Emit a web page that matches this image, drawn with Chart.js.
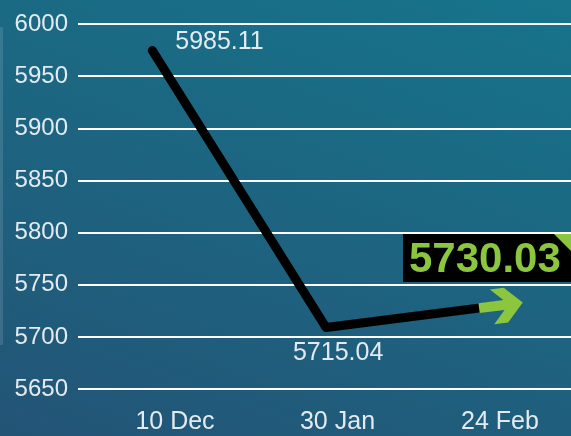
<!DOCTYPE html>
<html>
<head>
<meta charset="utf-8">
<script src="https://cdn.jsdelivr.net/npm/chart.js@4"></script>
<style>
  html, body { margin: 0; padding: 0; }
  body { width: 571px; height: 436px; overflow: hidden;
         background: linear-gradient(200deg, #16748b 0%, #1d6480 50%, #235476 100%); }
  #wrap { position: relative; width: 571px; height: 436px; }
  #strip { position: absolute; left: 0; top: 27px; width: 3px; height: 318px; background: rgba(255,255,255,0.12); }
</style>
</head>
<body>
<div id="wrap">
  <div id="strip"></div>
  <canvas id="chart" width="571" height="436"></canvas>
</div>
<script>
// Data
const xLabels = ['10 Dec', '30 Jan', '24 Feb'];
const pointPos = [-0.14, 0.93, 2.14];
const values = [5975, 5709, 5733];
const valueLabels = ['5985.11', '5715.04'];
const lastLabel = '5730.03';
const yTicks = [5650, 5700, 5750, 5800, 5850, 5900, 5950, 6000];

const textColor = '#e3ebf0';
const green = '#8cc63f';
const fontFamily = '"Liberation Sans", Arial, sans-serif';

// Labels and arrow drawn on top of the line
const decorPlugin = {
    id: 'decor',
    beforeDatasetDraw(chart) {
        // stop the black line short of the arrow tip
        const pts = chart.getDatasetMeta(0).data;
        const ctx = chart.ctx;
        ctx.save();
        ctx.beginPath();
        ctx.rect(0, 0, pts[2].x - 20, chart.height);
        ctx.clip();
    },
    afterDatasetDraw(chart) {
        chart.ctx.restore();
    },
    afterDatasetsDraw(chart) {
        const ctx = chart.ctx;
        const pts = chart.getDatasetMeta(0).data;

        ctx.save();
        ctx.font = '25px ' + fontFamily;
        ctx.fillStyle = textColor;
        ctx.textBaseline = 'middle';
        ctx.textAlign = 'left';
        ctx.fillText(valueLabels[0], pts[0].x + 23, pts[0].y - 8);
        ctx.textAlign = 'center';
        ctx.fillText(valueLabels[1], pts[1].x + 12, pts[1].y + 26);

        // green arrow at the end of the line
        const a = pts[1], b = pts[2];
        const ang = Math.atan2(b.y - a.y, b.x - a.x);
        ctx.translate(b.x, b.y);
        ctx.rotate(ang);
        ctx.fillStyle = green;
        ctx.beginPath();
        ctx.moveTo(0, 0);
        ctx.lineTo(-17, -17);
        ctx.lineTo(-31, -17);
        ctx.lineTo(-19, -5);
        ctx.lineTo(-44, -5);
        ctx.lineTo(-44, 5);
        ctx.lineTo(-19, 5);
        ctx.lineTo(-31, 18);
        ctx.lineTo(-17, 18);
        ctx.closePath();
        ctx.fill();
        ctx.restore();

        // last value box
        const area = chart.chartArea;
        ctx.save();
        ctx.fillStyle = '#000';
        ctx.fillRect(403, 234, area.right - 403, 48);
        ctx.fillStyle = green;
        ctx.beginPath();
        ctx.moveTo(554, 234);
        ctx.lineTo(area.right, 234);
        ctx.lineTo(area.right, 251);
        ctx.closePath();
        ctx.fill();
        ctx.font = 'bold 42px ' + fontFamily;
        ctx.textAlign = 'left';
        ctx.textBaseline = 'middle';
        ctx.fillText(lastLabel, 409, 260);
        ctx.restore();
    }
};

new Chart(document.getElementById('chart'), {
    type: 'line',
    data: {
        datasets: [{
            data: pointPos.map((x, i) => ({ x: x, y: values[i] })),
            borderColor: '#000',
            borderWidth: 9,
            borderCapStyle: 'round',
            borderJoinStyle: 'round',
            pointRadius: 0,
            tension: 0
        }]
    },
    options: {
        responsive: false,
        animation: false,
        layout: { padding: { top: 22, right: 0, bottom: 0, left: 0 } },
        plugins: { legend: { display: false }, tooltip: { enabled: false } },
        scales: {
            x: {
                type: 'linear',
                min: -0.597,
                max: 2.437,
                afterBuildTicks: (scale) => { scale.ticks = xLabels.map((l, i) => ({ value: i })); },
                afterFit: (scale) => { scale.height = 47; },
                grid: { display: false },
                border: { display: false },
                ticks: {
                    color: textColor,
                    padding: 10,
                    maxRotation: 0,
                    font: { size: 25, family: fontFamily },
                    callback: (v) => xLabels[v]
                }
            },
            y: {
                min: 5650,
                max: 6000,
                afterBuildTicks: (scale) => { scale.ticks = yTicks.map(v => ({ value: v })); },
                afterFit: (scale) => { scale.width = 78; },
                grid: { color: '#ffffff', lineWidth: 2, drawTicks: false },
                border: { display: false },
                ticks: {
                    color: textColor,
                    padding: 10,
                    font: { size: 24, family: fontFamily },
                    callback: (v) => String(v)
                }
            }
        }
    },
    plugins: [decorPlugin]
});
</script>
</body>
</html>
